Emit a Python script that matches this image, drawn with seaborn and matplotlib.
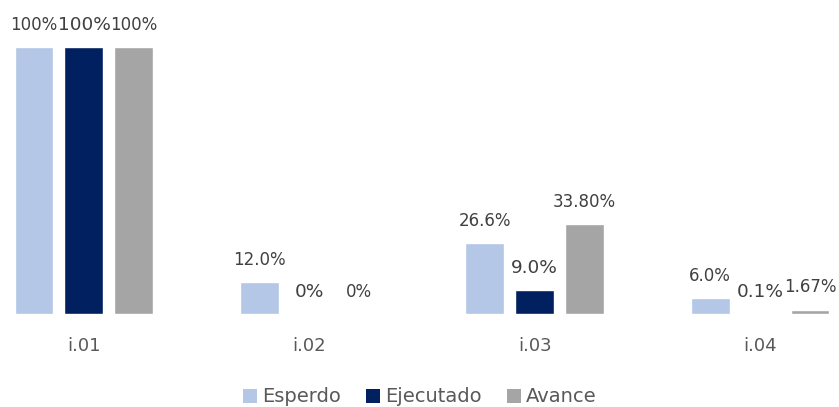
import matplotlib
matplotlib.use("Agg")
import matplotlib.pyplot as plt
import seaborn as sns
import pandas as pd
from matplotlib.patches import Patch

categories = ["i.01", "i.02", "i.03", "i.04"]
series = ["Esperdo", "Ejecutado", "Avance"]
esperado = [100, 12.0, 26.6, 6.0]
ejecutado = [100, 0, 9.0, 0.1]
avance = [100, 0, 33.80, 1.67]
labels_esperado = ["100%", "12.0%", "26.6%", "6.0%"]
labels_ejecutado = ["100%", "0%", "9.0%", "0.1%"]
labels_avance = ["100%", "0%", "33.80%", "1.67%"]
colors = ["#B4C7E7", "#002060", "#A5A5A5"]

rows = []
for s, vals in zip(series, [esperado, ejecutado, avance]):
    for c, v in zip(categories, vals):
        rows.append({"cat": c, "serie": s, "val": v})
df = pd.DataFrame(rows)

sns.set_theme(style="white")
plt.rcParams["font.family"] = ["DejaVu Sans"]

fig = plt.figure(figsize=(8.39, 4.07), dpi=100)
ax = fig.add_axes([0, (407 - 314) / 407, 1, 314 / 407])

sns.barplot(data=df, x="cat", y="val", hue="serie", hue_order=series,
            palette=colors, width=0.665, gap=0.22, ax=ax, legend=False,
            saturation=1, errorbar=None)

ax.set_xlim(-84 / 225.5, 3 + (839 - 760) / 225.5)
ax.set_ylim(0, 314 / 267 * 100)

label_sets = [labels_esperado, labels_ejecutado, labels_avance]
sizes = [12, 13.3, 12]
for cont, labs, fs in zip(ax.containers, label_sets, sizes):
    ax.bar_label(cont, labels=labs, padding=9.5, fontsize=fs, color="#404040")

for sp in ax.spines.values():
    sp.set_visible(False)
ax.set_yticks([])
ax.set_xlabel("")
ax.set_ylabel("")
ax.tick_params(axis="x", length=0, pad=16.5, labelsize=13, labelcolor="#595959")

handles = [Patch(facecolor=c, edgecolor="none") for c in colors]
fig.legend(handles, series, loc="center", bbox_to_anchor=(0.5, 1 - 397 / 407),
           ncol=3, frameon=False, fontsize=14, handlelength=0.72,
           handleheight=0.72, handletextpad=0.26, columnspacing=1.3,
           labelcolor="#595959")

fig.savefig("out.png", dpi=100)
